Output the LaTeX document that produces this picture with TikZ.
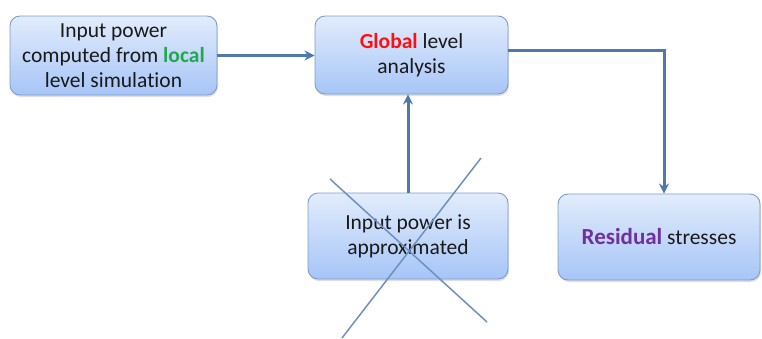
\documentclass[tikz,border=0pt]{standalone}
\usepackage{fontspec}
\setmainfont{Carlito}[Ligatures=NoCommon]
\usetikzlibrary{arrows.meta,shadows}
\definecolor{boxtop}{HTML}{E2ECFC}
\definecolor{boxbot}{HTML}{A6C5F7}
\definecolor{boxedge}{HTML}{7C9CCB}
\definecolor{flow}{HTML}{4F79AE}
\definecolor{strike}{HTML}{6F90BF}
\definecolor{localgreen}{HTML}{22A84F}
\definecolor{globalred}{HTML}{FF1010}
\definecolor{resid}{HTML}{7030A0}
\tikzset{
  stage/.style={draw=boxedge, line width=0.9pt, rounded corners=10pt,
    top color=boxtop, bottom color=boxbot, align=center,
    font=\fontsize{21.5}{25}\selectfont, text=black!90,
    drop shadow={opacity=0.25, shadow xshift=1pt, shadow yshift=-2pt},
    inner sep=0pt},
  flowarrow/.style={draw=flow, line width=3pt, -{Stealth[length=10pt,width=10pt]}},
  strikeline/.style={draw=strike, line width=1.5pt}
}
\begin{document}
\begin{tikzpicture}[x=1pt,y=-1pt]
\useasboundingbox (0,0) rectangle (762,338);
\node[stage, minimum width=207pt, minimum height=79pt] (local) at (113.5,55.5)
  {Input power\\computed from \textcolor{localgreen}{\textbf{local}}\\level simulation};
\node[stage, minimum width=193pt, minimum height=78pt] (global) at (411.5,55)
  {\textcolor{globalred}{\textbf{Global}} level\\analysis};
\node[stage, minimum width=200pt, minimum height=86pt] (approx) at (408,236)
  {Input power is\\approximated};
\node[stage, minimum width=202pt, minimum height=86pt] (resid) at (659,237)
  {\textcolor{resid}{\textbf{\fontsize{23}{25}\selectfont Residual}} stresses};

% crossing-out lines over the approximation box
\coordinate (xa1) at (330,179);
\coordinate (xa2) at (487,322);
\coordinate (xb1) at (481,158);
\coordinate (xb2) at (342,338);
\draw[strikeline] (xa1) -- (xa2);
\draw[strikeline] (xb1) -- (xb2);

% flow connectors
\draw[flowarrow] (local.east) -- (local.east -| global.west);
\coordinate (up) at (408,0);
\draw[flowarrow] (approx.north -| up) -- (up |- global.south);
\coordinate (turn) at (664,50);
\draw[flowarrow] (global.east |- turn) -- (turn) -- (turn |- resid.north);
\end{tikzpicture}
\end{document}
